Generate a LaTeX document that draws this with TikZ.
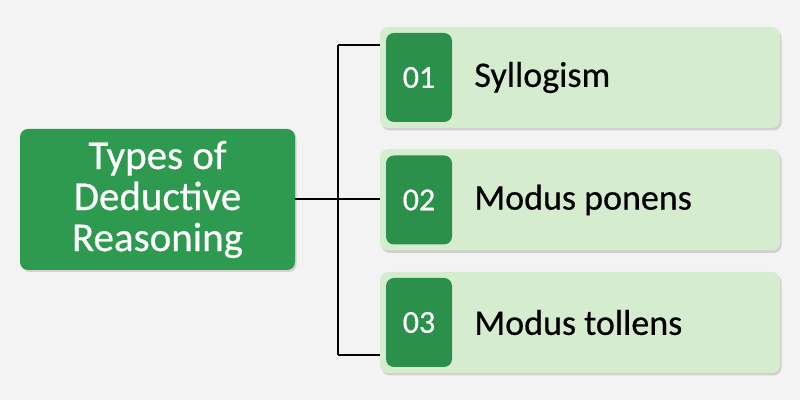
\documentclass[tikz,border=0pt]{standalone}
\usepackage{fontspec}
\setmainfont{Carlito}[FakeBold=0.5]
\usetikzlibrary{shadows}
\definecolor{bg}{HTML}{F3F3F3}
\definecolor{dgreen}{HTML}{2E9A50}
\definecolor{ngreen}{HTML}{2B9049}
\definecolor{lgreen}{HTML}{D5ECCE}
\tikzset{
  mainbox/.style={draw=none, fill=dgreen, rounded corners=4pt, text=white, align=center,
    minimum width=137.5pt, minimum height=70.5pt, inner sep=0pt,
    font=\fontsize{20.5}{20.5}\selectfont,
    drop shadow={shadow xshift=0.8pt, shadow yshift=-1pt, fill=black!35, opacity=0.4}},
  itembox/.style={draw=none, fill=lgreen, rounded corners=4pt, minimum width=200pt, minimum height=50.5pt, inner sep=0pt,
    drop shadow={shadow xshift=0.8pt, shadow yshift=-1.2pt, fill=black!35, opacity=0.45}},
  numbox/.style={draw=none, fill=ngreen, rounded corners=4pt, minimum width=33pt, minimum height=44.5pt, inner sep=0pt,
    text=white, font=\fontsize{16}{18}\selectfont},
  lbl/.style={anchor=west, inner sep=0pt, font=\fontsize{18}{20}\selectfont, text=black},
  conn/.style={draw=black, line width=0.8pt}
}
\begin{document}
\begin{tikzpicture}[x=0.5pt,y=0.5pt]
\fill[bg] (0,0) rectangle (800,400);
\useasboundingbox (0,0) rectangle (800,400);
\node[mainbox] (main) at (157.5,200.5) {Types of\\Deductive\\Reasoning};
\node[itembox] (b1) at (580,322.5) {};
\node[itembox] (b2) at (580,200) {};
\node[itembox] (b3) at (580,77.5) {};
\node[numbox] (n1) at (419,322.5) {01};
\node[numbox] (n2) at (419,200) {02};
\node[numbox] (n3) at (419,77.5) {03};
\node[lbl] (t1) at (474,322.5) {Syllogism};
\node[lbl] (t2) at (474,200) {Modus ponens};
\node[lbl] (t3) at (474,77.5) {Modus tollens};
\coordinate (j) at (338,201);
\coordinate (j1) at (338,355);
\coordinate (j3) at (338,45);
\draw[conn] (main.east |- j) -- (j);
\draw[conn] (j1) -- (j3);
\draw[conn] (j1) -- (b1.west |- j1);
\draw[conn] (j) -- (b2.west |- j);
\draw[conn] (j3) -- (b3.west |- j3);
\end{tikzpicture}
\end{document}
